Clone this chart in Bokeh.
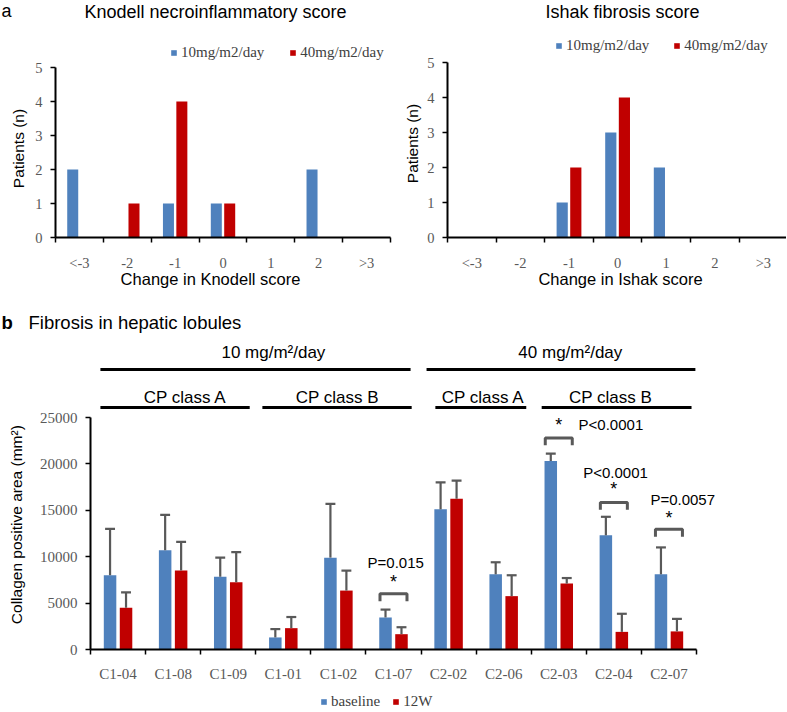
import math
from bokeh.plotting import figure
from bokeh.models import Range1d, FixedTicker, Label, Legend, LegendItem
from bokeh.layouts import column, row
from bokeh.embed import file_html
from bokeh.resources import INLINE

# ---------------- data ----------------
score_cats = ["<-3", "-2", "-1", "0", "1", "2", ">3"]
knodell_10 = [2, 0, 1, 1, 0, 2, 0]
knodell_40 = [0, 1, 4, 1, 0, 0, 0]
ishak_10 = [0, 0, 1, 3, 2, 0, 0]
ishak_40 = [0, 0, 2, 4, 0, 0, 0]
score_yticks = [0, 1, 2, 3, 4, 5]

patients = ["C1-04", "C1-08", "C1-09", "C1-01", "C1-02", "C1-07",
            "C2-02", "C2-06", "C2-03", "C2-04", "C2-07"]
baseline_mean = [8000, 10700, 7850, 1300, 9900, 3450, 15100, 8100, 20300, 12300, 8100]
baseline_sd = [5000, 3800, 2050, 900, 5800, 850, 2900, 1300, 800, 2000, 2900]
w12_mean = [4500, 8500, 7250, 2300, 6350, 1650, 16250, 5750, 7100, 1900, 1950]
w12_sd = [1650, 3100, 3250, 1200, 2150, 750, 1950, 2250, 600, 1950, 1350]
collagen_yticks = [0, 5000, 10000, 15000, 20000, 25000]

sig_patients = ["C1-07", "C2-03", "C2-04", "C2-07"]
sig_pvalues = ["P=0.015", "P<0.0001", "P<0.0001", "P=0.0057"]

BLUE = "#4F81BD"
RED = "#C00000"
GREY = "#595959"
SANS = "Liberation Sans"
SERIF = "Liberation Serif"


def base_style(p):
    p.xgrid.visible = False
    p.ygrid.visible = False
    p.outline_line_color = None
    p.background_fill_color = "white"
    p.border_fill_color = "white"
    p.min_border = 0
    p.min_border_left = 0
    p.min_border_right = 0
    p.min_border_top = 0
    p.min_border_bottom = 0


def style_axes(p, centers, labels, nbound, yticks, ybounds, font_size, x_standoff):
    xa = p.xaxis[0]
    xa.fixed_location = 0
    xa.ticker = FixedTicker(ticks=centers, minor_ticks=list(range(nbound + 1)))
    xa.major_label_overrides = {c: l for c, l in zip(centers, labels)}
    xa.bounds = (0, nbound)
    xa.major_tick_line_color = None
    xa.major_tick_out = 0
    xa.major_tick_in = 0
    xa.minor_tick_out = 5
    xa.minor_tick_in = 0
    xa.minor_tick_line_color = "black"
    xa.minor_tick_line_width = 1.5
    xa.axis_line_color = "black"
    xa.axis_line_width = 2
    xa.major_label_text_font = SERIF
    xa.major_label_text_font_size = font_size
    xa.major_label_text_color = GREY
    xa.major_label_standoff = x_standoff

    ya = p.yaxis[0]
    ya.fixed_location = 0
    ya.ticker = FixedTicker(ticks=yticks)
    ya.bounds = ybounds
    ya.major_tick_out = 5
    ya.major_tick_in = 0
    ya.major_tick_line_width = 1.5
    ya.major_tick_line_color = "black"
    ya.minor_tick_line_color = None
    ya.axis_line_color = "black"
    ya.axis_line_width = 2
    ya.major_label_text_font = SERIF
    ya.major_label_text_font_size = font_size
    ya.major_label_text_color = GREY
    ya.major_label_standoff = 8


def slabel(p, sx, sy, text, size, align="center", angle=0.0, style="normal", color="black", font=SANS):
    """Text placed in figure pixels (sx from left, sy from top of the figure)."""
    p.add_layout(Label(x=sx, y=p.height - sy, x_units="screen", y_units="screen", text=text,
                       angle=angle, text_font=font, text_font_size=size, text_font_style=style,
                       text_align=align, text_baseline="middle", text_color=color))


def make_legend(p, renderers, labels, left, center_y, spacing, size):
    leg = Legend(items=[LegendItem(label=l, renderers=[r]) for l, r in zip(labels, renderers)],
                 orientation="horizontal", location=(left, p.height - center_y - 7),
                 border_line_color=None, background_fill_alpha=0, padding=0, margin=0,
                 spacing=spacing, label_standoff=4, glyph_width=7, glyph_height=7,
                 label_height=14, label_text_font=SERIF, label_text_font_size=size,
                 label_text_color="#404040")
    p.add_layout(leg)


def score_chart(title, xlabel, v10, v40, width, axis_x, unit_x, unit_y,
                title_x, ylab_x, ylab_y, xlab_x, leg_left, leg_y, leg_spacing, letter=None):
    height = 290
    axis_y = 237
    p = figure(width=width, height=height,
               x_range=Range1d(-axis_x / unit_x, (width - axis_x) / unit_x),
               y_range=Range1d(-(height - axis_y) / unit_y, axis_y / unit_y),
               output_backend="svg", toolbar_location=None)
    base_style(p)
    n = len(score_cats)
    centers = [i + 0.5 for i in range(n)]
    xb = [c - 0.14 for c in centers]
    xr = [c + 0.14 for c in centers]
    r1 = p.vbar(x=xb, top=v10, width=0.23, fill_color=BLUE, line_color=None)
    r2 = p.vbar(x=xr, top=v40, width=0.23, fill_color=RED, line_color=None)
    style_axes(p, centers, score_cats, n, score_yticks, (0, 5), "14.5px", 12)

    slabel(p, title_x, 11, title, "18px")
    if letter:
        slabel(p, 1, 10, letter, "18px", align="left")
    slabel(p, ylab_x, ylab_y, "Patients (n)", "15.5px", angle=math.pi / 2)
    slabel(p, xlab_x, 278, xlabel, "16.5px")
    make_legend(p, [r1, r2], ["10mg/m2/day", "40mg/m2/day"], leg_left, leg_y, leg_spacing, "15px")
    return p


p1 = score_chart("Knodell necroinflammatory score", "Change in Knodell score", knodell_10, knodell_40,
                 width=394, axis_x=55, unit_x=47.86, unit_y=34,
                 title_x=215, ylab_x=18, ylab_y=148, xlab_x=210,
                 leg_left=170, leg_y=54, leg_spacing=25, letter="a")
p2 = score_chart("Ishak fibrosis score", "Change in Ishak score", ishak_10, ishak_40,
                 width=392, axis_x=53, unit_x=48.6, unit_y=35,
                 title_x=228, ylab_x=18, ylab_y=143, xlab_x=226,
                 leg_left=161, leg_y=47, leg_spacing=24)

# ---------------- bottom chart ----------------
W3, H3 = 786, 421
AX3, AY3 = 90, 359          # axis origin in figure pixels (from left / from top)
ux = 55.09                  # pixels per patient slot
uy = 232 / 25000            # pixels per mm2 unit
p3 = figure(width=W3, height=H3,
            x_range=Range1d(-AX3 / ux, (W3 - AX3) / ux),
            y_range=Range1d(-(H3 - AY3) / uy, AY3 / uy),
            output_backend="svg", toolbar_location=None)
base_style(p3)
n = len(patients)
centers = [i + 0.5 for i in range(n)]
xb = [c - 0.145 for c in centers]
xr = [c + 0.145 for c in centers]
rb = p3.vbar(x=xb, top=baseline_mean, width=0.227, fill_color=BLUE, line_color=None)
rr = p3.vbar(x=xr, top=w12_mean, width=0.227, fill_color=RED, line_color=None)

cap = 0.09
for xs, m, s in ((xb, baseline_mean, baseline_sd), (xr, w12_mean, w12_sd)):
    tops = [a + b for a, b in zip(m, s)]
    p3.segment(x0=xs, y0=m, x1=xs, y1=tops, line_color=GREY, line_width=2.2)
    p3.segment(x0=[x - cap for x in xs], y0=tops, x1=[x + cap for x in xs], y1=tops,
               line_color=GREY, line_width=2.2)

style_axes(p3, centers, patients, n, collagen_yticks, (0, 25000), "15px", 11)

# significance brackets, stars and p-values
bracket_top = [6000, 22800, 15850, 12950]
leg_drop = 800
star_y = [7250, 24150, 17250, 14150]
ptext_xy = [(5.54, 9400, "center"), (8.86, 24250, "left"), (9.53, 19050, "center"), (10.75, 16150, "center")]
xs_list, ys_list = [], []
for pat, top in zip(sig_patients, bracket_top):
    c = patients.index(pat) + 0.5
    xs_list.append([c - 0.245, c - 0.245, c + 0.245, c + 0.245])
    ys_list.append([top - leg_drop, top, top, top - leg_drop])
p3.multi_line(xs=xs_list, ys=ys_list, line_color=GREY, line_width=3)
for pat, sy, (tx, ty, al), txt in zip(sig_patients, star_y, ptext_xy, sig_pvalues):
    c = patients.index(pat) + 0.5
    p3.add_layout(Label(x=c, y=sy, text="*", text_font=SANS, text_font_size="18px",
                        text_align="center", text_baseline="middle", text_color="black"))
    p3.add_layout(Label(x=tx, y=ty, text=txt, text_font=SANS, text_font_size="15px",
                        text_align=al, text_baseline="middle", text_color="black"))

# group headers
headers = [("10 mg/m²/day", 3.32, 32036), ("40 mg/m²/day", 8.71, 32036),
           ("CP class A", 1.72, 27187), ("CP class B", 4.48, 27187),
           ("CP class A", 7.13, 27187), ("CP class B", 9.44, 27187)]
for txt, hx, hy in headers:
    p3.add_layout(Label(x=hx, y=hy, text=txt, text_font=SANS, text_font_size="17px",
                        text_align="center", text_baseline="middle", text_color="black"))
header_lines = [(0.18, 5.81, 30172), (6.10, 10.98, 30172),
                (0.18, 2.89, 26078), (3.12, 5.83, 26078),
                (6.26, 7.91, 26078), (8.19, 10.91, 26078)]
p3.segment(x0=[a for a, b, c in header_lines], x1=[b for a, b, c in header_lines],
           y0=[c for a, b, c in header_lines], y1=[c for a, b, c in header_lines],
           line_color="black", line_width=3)

# texts in figure pixels (top of p3 is at page y = 290)
slabel(p3, 1, 322 - 290, "b", "18.5px", align="left", style="bold")
slabel(p3, 28, 322 - 290, "Fibrosis in hepatic lobules", "18.5px", align="left")
slabel(p3, 16, 522 - 290, "Collagen positive area  (mm²)", "15.5px", angle=math.pi / 2)
make_legend(p3, [rb, rr], ["baseline", "12W"], 320, 703 - 290, 12, "15px")

layout = column(row(p1, p2), p3)
open("out.html", "w").write(file_html(layout, INLINE))
